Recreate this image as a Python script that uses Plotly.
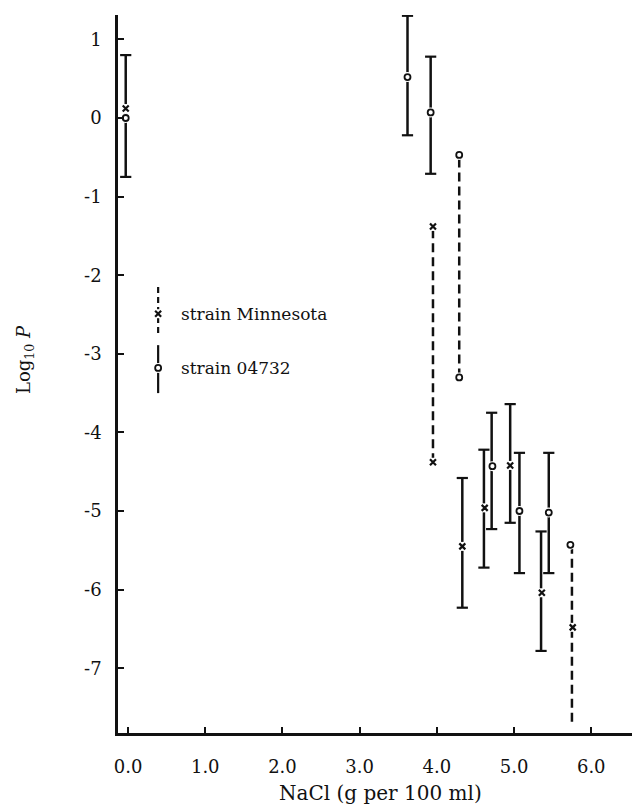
import plotly.graph_objects as go

# ---------------- data ----------------
# strain Minnesota (x marks)
minn_x = [-0.03, 3.95, 3.95, 4.33, 4.62, 4.95, 5.36, 5.76]
minn_y = [0.12, -1.38, -4.38, -5.45, -4.96, -4.42, -6.04, -6.48]
# strain 04732 (open circles)
s047_x = [-0.03, 3.62, 3.92, 4.29, 4.29, 4.72, 5.07, 5.45, 5.73]
s047_y = [0.00, 0.52, 0.07, -0.47, -3.30, -4.43, -5.00, -5.02, -5.43]

# solid error bars: position, low, high
solid_x = [-0.03, 3.62, 3.92, 4.33, 4.61, 4.71, 4.95, 5.07, 5.35, 5.45]
solid_lo = [-0.75, -0.22, -0.71, -6.23, -5.72, -5.23, -5.15, -5.79, -6.78, -5.79]
solid_hi = [0.80, 1.30, 0.78, -4.58, -4.22, -3.75, -3.64, -4.26, -5.26, -4.26]

# dashed ranges: position, low, high
dash_x = [3.95, 4.29, 5.75]
dash_lo = [-4.38, -3.30, -7.68]
dash_hi = [-1.38, -0.47, -5.43]

x_tickvals = [0, 1, 2, 3, 4, 5, 6]
x_ticktext = ["0.0", "1.0", "2.0", "3.0", "4.0", "5.0", "6.0"]
y_tickvals = [1, 0, -1, -2, -3, -4, -5, -6, -7]
y_ticktext = ["1", "0", "-1", "-2", "-3", "-4", "-5", "-6", "-7"]

legend_labels = ["strain Minnesota", "strain 04732"]

# ---------------- figure ----------------
INK = "#111111"
FONT = "DejaVu Serif"


def segs(xs, lo, hi):
    X, Y = [], []
    for a, b, c in zip(xs, lo, hi):
        X += [a, a, None]
        Y += [b, c, None]
    return X, Y


fig = go.Figure()

sx, sy = segs(solid_x, solid_lo, solid_hi)
fig.add_trace(go.Scatter(x=sx, y=sy, mode="lines",
                         line=dict(color=INK, width=2.5), hoverinfo="skip"))
# caps
fig.add_trace(go.Scatter(x=solid_x + solid_x, y=solid_lo + solid_hi, mode="markers",
                         marker=dict(symbol="line-ew", size=8,
                                     line=dict(color=INK, width=2.2)),
                         hoverinfo="skip"))

dx, dy = segs(dash_x, dash_lo, dash_hi)
fig.add_trace(go.Scatter(x=dx, y=dy, mode="lines",
                         line=dict(color=INK, width=2.5, dash="9px,5px"),
                         hoverinfo="skip"))

# legend keys (in data space)
leg_x = 0.39
leg_y = [-2.49, -3.18]
fig.add_trace(go.Scatter(x=[leg_x, leg_x], y=[-2.15, -2.76], mode="lines",
                         line=dict(color=INK, width=2.2, dash="6px,4px"), hoverinfo="skip"))
fig.add_trace(go.Scatter(x=[leg_x, leg_x], y=[-2.89, -3.50], mode="lines",
                         line=dict(color=INK, width=2.2), hoverinfo="skip"))

# white halos behind markers to break the lines
fig.add_trace(go.Scatter(x=minn_x + [leg_x], y=minn_y + [leg_y[0]], mode="markers",
                         marker=dict(symbol="square", size=9, color="white"),
                         hoverinfo="skip"))
fig.add_trace(go.Scatter(x=s047_x + [leg_x], y=s047_y + [leg_y[1]], mode="markers",
                         marker=dict(symbol="circle", size=10, color="white"),
                         hoverinfo="skip"))

fig.add_trace(go.Scatter(x=minn_x + [leg_x], y=minn_y + [leg_y[0]], mode="markers",
                         name=legend_labels[0],
                         marker=dict(symbol="x-thin", size=6,
                                     line=dict(color=INK, width=2.2))))
fig.add_trace(go.Scatter(x=s047_x + [leg_x], y=s047_y + [leg_y[1]], mode="markers",
                         name=legend_labels[1],
                         marker=dict(symbol="circle", size=6, color="white",
                                     line=dict(color=INK, width=1.8))))

for lab, yy in zip(legend_labels, leg_y):
    fig.add_annotation(x=leg_x + 0.27, y=yy, xref="x", yref="y", text=lab,
                       showarrow=False, xanchor="left", yanchor="middle",
                       font=dict(family=FONT, size=17, color=INK))

# axis titles (page has an 8px body margin; figure is 632x803)
fig.add_annotation(x=(17 - 110) / 522, y=(725 - 352) / 718, xref="paper", yref="paper",
                   text="Log<sub>10</sub> <i>P</i>", showarrow=False, textangle=-90,
                   xanchor="center", yanchor="middle",
                   font=dict(family=FONT, size=18, color=INK))
fig.add_annotation(x=(372 - 110) / 522, y=(725 - 785) / 718, xref="paper", yref="paper",
                   text="NaCl (g per 100 ml)", showarrow=False,
                   xanchor="center", yanchor="middle",
                   font=dict(family=FONT, size=20, color=INK))

fig.update_layout(
    width=632, height=803,
    margin=dict(l=110, r=0, t=7, b=78),
    paper_bgcolor="white", plot_bgcolor="white",
    showlegend=False,
    font=dict(family=FONT, color=INK),
    xaxis=dict(range=[-0.13, -0.13 + 522 / 77.2], tickvals=x_tickvals, ticktext=x_ticktext,
               showgrid=False, zeroline=False, showline=True, linecolor=INK, linewidth=3,
               ticks="inside", ticklen=6, tickwidth=2, tickcolor=INK,
               ticklabelstandoff=15, tickfont=dict(family=FONT, size=18, color=INK)),
    yaxis=dict(range=[-7.824, 1.31], tickvals=y_tickvals, ticktext=y_ticktext,
               showgrid=False, zeroline=False, showline=True, linecolor=INK, linewidth=2.5,
               ticks="inside", ticklen=6, tickwidth=2, tickcolor=INK,
               ticklabelstandoff=10, tickfont=dict(family=FONT, size=18, color=INK)),
)

fig.write_html("out.html")
